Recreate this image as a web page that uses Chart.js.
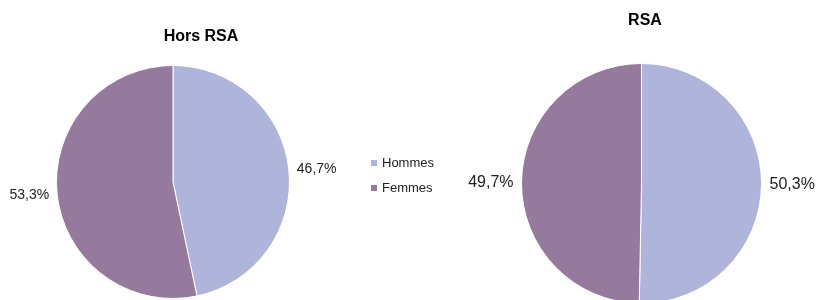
<!DOCTYPE html>
<html>
<head>
<meta charset="utf-8">
<script src="https://cdn.jsdelivr.net/npm/chart.js@4.4.1/dist/chart.umd.min.js"></script>
<style>
    html, body { margin: 0; padding: 0; background: #fff; overflow: hidden; }
    #wrap { position: relative; width: 818px; height: 300px; overflow: hidden; }
    #horsRsa { position: absolute; left: 0; top: 0; }
    #rsa { position: absolute; left: 430px; top: 0; }
</style>
</head>
<body>
<div id="wrap">
    <canvas id="horsRsa" width="470" height="300"></canvas>
    <canvas id="rsa" width="388" height="310"></canvas>
</div>
<script>
const categories = ['Hommes', 'Femmes'];
const horsRsaValues = [46.7, 53.3];
const rsaValues = [50.3, 49.7];
const sliceColors = ['#afb4db', '#967a9e'];

const fontFamily = '"Liberation Sans", Arial, sans-serif';

// labels outside each slice, like "46,7%"
const outLabels = {
    id: 'outLabels',
    afterDatasetsDraw(chart, args, opts) {
        let ctx = chart.ctx;
        let meta = chart.getDatasetMeta(0);
        let values = chart.data.datasets[0].data;
        ctx.save();
        ctx.font = opts.size + 'px ' + fontFamily;
        ctx.fillStyle = '#222';
        ctx.textBaseline = 'middle';
        meta.data.forEach((arc, i) => {
            let mid = (arc.startAngle + arc.endAngle) / 2;
            let r = arc.outerRadius + opts.gap;
            let x = arc.x + Math.cos(mid) * r;
            let y = arc.y + Math.sin(mid) * r;
            ctx.textAlign = Math.cos(mid) >= 0 ? 'left' : 'right';
            ctx.fillText(values[i].toFixed(1).replace('.', ',') + '%', x, y);
        });
        ctx.restore();
    }
};

const heading = {
    id: 'heading',
    afterDraw(chart, args, opts) {
        let ctx = chart.ctx;
        ctx.save();
        ctx.font = 'bold ' + opts.size + 'px ' + fontFamily;
        ctx.fillStyle = '#000';
        ctx.textAlign = 'center';
        ctx.textBaseline = 'middle';
        ctx.fillText(opts.text, opts.x, opts.y);
        ctx.restore();
    }
};

// small legend drawn to the right of the first pie
const sideLegend = {
    id: 'sideLegend',
    afterDraw(chart, args, opts) {
        if (!opts.show) return;
        let ctx = chart.ctx;
        let colors = chart.data.datasets[0].backgroundColor;
        ctx.save();
        ctx.font = opts.size + 'px ' + fontFamily;
        ctx.textBaseline = 'middle';
        ctx.textAlign = 'left';
        chart.data.labels.forEach((label, i) => {
            let y = opts.y + i * opts.step;
            ctx.fillStyle = colors[i];
            ctx.fillRect(opts.x, y - 3, 6, 6);
            ctx.fillStyle = '#222';
            ctx.fillText(label, opts.x + 11, y);
        });
        ctx.restore();
    }
};

function makePie(id, values, title, pad, titlePos, labelSize, legend) {
    return new Chart(document.getElementById(id), {
        type: 'pie',
        data: {
            labels: categories,
            datasets: [{
                data: values,
                backgroundColor: sliceColors,
                borderColor: '#ffffff',
                borderWidth: 1,
            }]
        },
        options: {
            responsive: false,
            animation: false,
            devicePixelRatio: 1,
            layout: { padding: pad },
            plugins: {
                legend: { display: false },
                tooltip: { enabled: false },
                outLabels: { size: labelSize, gap: 8 },
                heading: { text: title, x: titlePos.x, y: titlePos.y, size: 16 },
                sideLegend: legend,
            }
        },
        plugins: [outLabels, heading, sideLegend],
    });
}

makePie('horsRsa', horsRsaValues, 'Hors RSA',
    { left: 56, top: 65, right: 180, bottom: 1 },
    { x: 201, y: 37 }, 14,
    { show: true, x: 371, y: 163, step: 25, size: 13 });

makePie('rsa', rsaValues, 'RSA',
    { left: 91, top: 63, right: 56, bottom: 6 },
    { x: 215, y: 21 }, 16,
    { show: false });
</script>
</body>
</html>
